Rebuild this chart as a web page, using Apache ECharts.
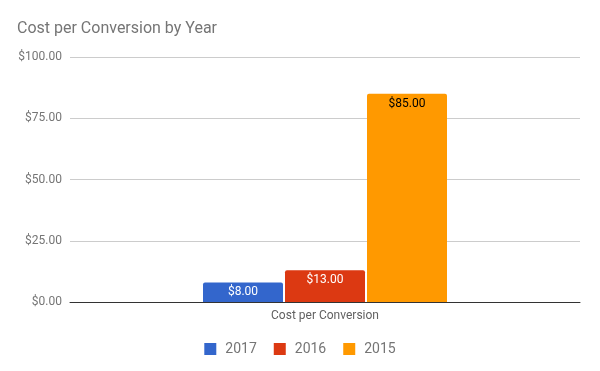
<!DOCTYPE html>
<html><head><meta charset="utf-8">
<script src="https://cdn.jsdelivr.net/npm/echarts@6/dist/echarts.min.js"></script>
<style>html,body{margin:0;padding:0;background:#fff}#c{width:600px;height:371px}</style>
</head><body><div id="c"></div>
<script>
const categories = ['Cost per Conversion'];
const seriesNames = ['2017', '2016', '2015'];
const values2017 = [8];
const values2016 = [13];
const values2015 = [85];
const yTicks = [0, 25, 50, 75, 100];
const colors = ['#3366cc', '#dc3912', '#ff9900'];
const labelColors = ['#ffffff', '#ffffff', '#000000'];
const allValues = [values2017, values2016, values2015];

const chart = echarts.init(document.getElementById('c'), null, {renderer: 'canvas'});
const font = 'Roboto, sans-serif';
chart.setOption({
  animation: false,
  title: {text: 'Cost per Conversion by Year', left: 12, top: 16,
    textStyle: {fontFamily: font, fontSize: 16, fontWeight: 'normal', color: '#757575'}},
  legend: {top: 337, left: 'center', itemWidth: 12, itemHeight: 12, itemGap: 17,
    icon: 'rect',
    textStyle: {fontFamily: font, fontSize: 14, color: '#757575', padding: [0, 0, 0, 4]}},
  grid: {left: 70, right: 20, top: 57, bottom: 69, containLabel: false},
  xAxis: {type: 'category', data: categories,
    axisLine: {lineStyle: {color: '#333', width: 1}}, axisTick: {show: false},
    axisLabel: {fontFamily: font, fontSize: 12, color: '#616161', margin: 8}},
  yAxis: {type: 'value', min: yTicks[0], max: yTicks[yTicks.length - 1], interval: 25,
    axisLine: {show: false}, axisTick: {show: false},
    splitLine: {lineStyle: {color: '#cccccc'}},
    axisLabel: {fontFamily: font, fontSize: 12, color: '#757575', margin: 8,
      formatter: v => '$' + v.toFixed(2)}},
  series: seriesNames.map((n, i) => ({
    name: n, type: 'bar', data: allValues[i], barWidth: 80, barGap: '2.5%',
    itemStyle: {color: colors[i], borderRadius: [2, 2, 0, 0]},
    label: {show: true, position: 'insideTop', distance: 4, fontFamily: font, fontSize: 12,
      color: labelColors[i], formatter: p => '$' + p.value.toFixed(2)}
  }))
});
</script></body></html>
